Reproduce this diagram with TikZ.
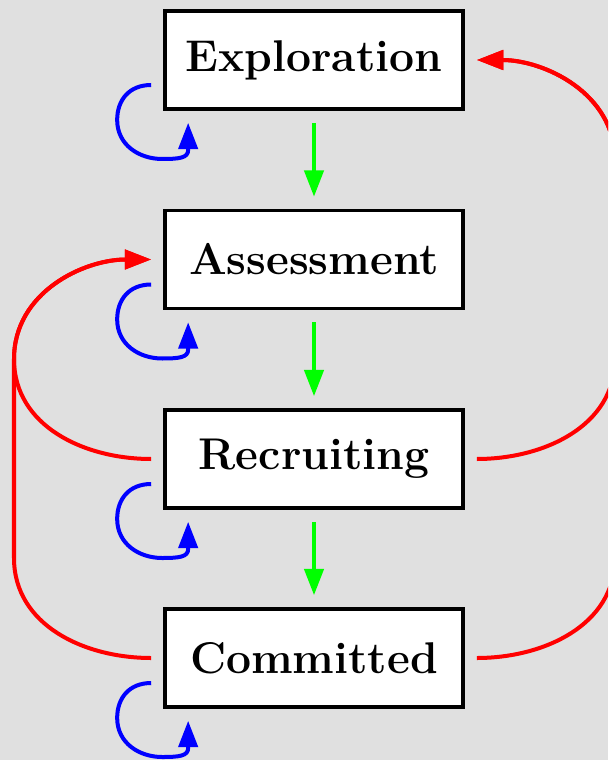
\documentclass[tikz,border=0pt]{standalone}
\usepackage{fontspec}
\usetikzlibrary{arrows.meta}
\definecolor{bg}{RGB}{224,224,224}
\begin{document}
\begin{tikzpicture}[x=0.025cm,y=-0.025cm,
  state/.style={draw=black, fill=white, line width=0.09cm, minimum width=7.45cm,
    minimum height=2.45cm, inner sep=0pt, font=\fontsize{31.6}{36}\selectfont\bfseries},
  tip/.style={-{Triangle[length=0.66cm,width=0.48cm]}},
  flow/.style={draw={rgb,255:red,0;green,255;blue,0}, line width=0.1cm, tip,
    shorten <=0.3cm, shorten >=0.3cm},
  selfloop/.style={draw=blue, line width=0.1cm, tip},
  back/.style={draw=red, line width=0.1cm, tip}]
\clip (0,0) rectangle (608,760);
\fill[bg] (0,0) rectangle (608,760);
\node[state] (E) at (314,60) {Exploration};
\node[state] (A) at (314,259.5) {Assessment};
\node[state] (R) at (314,459) {Recruiting};
\node[state] (C) at (314,658) {Committed};
% forward flow
\draw[flow] (E.south) -- (A.north);
\draw[flow] (A.south) -- (R.north);
\draw[flow] (R.south) -- (C.north);
% self loops
\foreach \n in {E,A,R,C}{
  \draw[selfloop] ([shift={(-12,25)}]\n.west)
    .. controls +(-22,0) and +(0,-20) .. ++(-34,35)
    .. controls +(0,25) and +(-23,0) .. ++(45,39)
    .. controls +(17,0) and +(0,8) .. ++(26,-9)
    -- ([shift={(25,12)}]\n.south west);
}
% turning points of the return paths
\coordinate (L1) at (14,359);
\coordinate (L2) at (14,558);
\coordinate (R0) at (615,160);
\coordinate (R1) at (615,359);
\coordinate (R2) at (615,558);
% left returns to Assessment
\draw[back] ([shift={(-12,0)}]R.west) .. controls +(-67,0) and +(0,67) .. (L1)
  .. controls +(0,-67) and +(-67,0) .. ([shift={(-12,0)}]A.west);
\draw[back] ([shift={(-12,0)}]C.west) .. controls +(-67,0) and +(0,67) .. (L2) -- (L1)
  .. controls +(0,-67) and +(-67,0) .. ([shift={(-12,0)}]A.west);
% right returns to Exploration
\draw[back] ([shift={(12,0)}]R.east) .. controls +(67,0) and +(0,67) .. (R1) -- (R0)
  .. controls +(0,-67) and +(67,0) .. ([shift={(12,0)}]E.east);
\draw[back] ([shift={(12,0)}]C.east) .. controls +(67,0) and +(0,67) .. (R2) -- (R0)
  .. controls +(0,-67) and +(67,0) .. ([shift={(12,0)}]E.east);
\end{tikzpicture}
\end{document}
